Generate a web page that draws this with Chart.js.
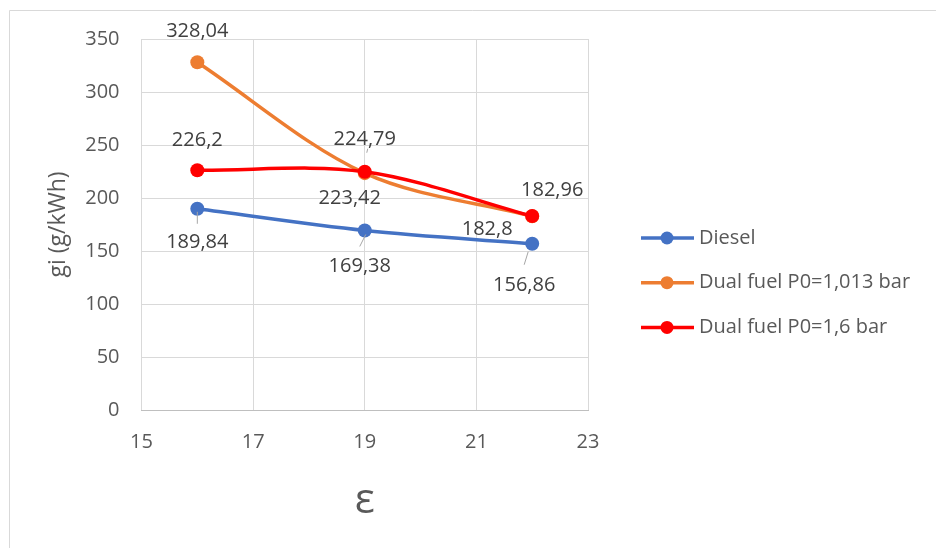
<!DOCTYPE html>
<html>
<head>
<meta charset="utf-8">
<script src="https://cdn.jsdelivr.net/npm/chart.js@4/dist/chart.umd.min.js"></script>
<style>
  html, body { margin: 0; padding: 0; background: #fff; }
  #wrap { width: 936px; height: 548px; }
</style>
</head>
<body>
<div id="wrap"><canvas id="giChart" width="936" height="548"></canvas></div>
<script>
// values
const epsValues = [16, 19, 22];
const seriesNames = ["Diesel", "Dual fuel P0=1,013 bar", "Dual fuel P0=1,6 bar"];
const dieselValues = [189.84, 169.38, 156.86];
const dualAtmValues = [328.04, 223.42, 182.8];
const dualBoostValues = [226.2, 224.79, 182.96];
const xTicks = [15, 17, 19, 21, 23];
const yTicks = [0, 50, 100, 150, 200, 250, 300, 350];

const seriesColors = ["#4472C4", "#ED7D31", "#FF0000"];

// where each value label sits relative to its point (px), and optional leader line
const labelPlacement = [
  [
    { dx: 0, dy: 34, leader: [0, 3, 0, 15] },
    { dx: -5, dy: 36, leader: [1, 4, -5, 16] },
    { dx: -8, dy: 42, leader: [-4, 8, -8, 21] },
  ],
  [
    { dx: 0, dy: -31 },
    { dx: -15, dy: 25 },
    { dx: -45, dy: 13 },
  ],
  [
    { dx: 0, dy: -30 },
    { dx: 0, dy: -32, leader: [3, -23, 2, -19] },
    { dx: 20, dy: -26 },
  ],
];

Chart.defaults.font.family = "'Open Sans', sans-serif";
Chart.defaults.font.size = 20;
Chart.defaults.color = "#595959";

function toPoints(values) {
  return epsValues.map((x, i) => ({ x: x, y: values[i] }));
}

function fmt(v) {
  return String(v).replace(".", ",");
}

const frame = {
  id: "frame",
  beforeDraw(chart) {
    const ctx = chart.ctx;
    ctx.save();
    ctx.fillStyle = "#ffffff";
    ctx.fillRect(0, 0, chart.width, chart.height);
    ctx.strokeStyle = "#d9d9d9";
    ctx.lineWidth = 1;
    ctx.beginPath();
    ctx.moveTo(9.5, chart.height);
    ctx.lineTo(9.5, 10.5);
    ctx.lineTo(chart.width, 10.5);
    ctx.stroke();
    ctx.restore();
  },
};

const valueLabels = {
  id: "valueLabels",
  afterDatasetsDraw(chart) {
    const ctx = chart.ctx;
    ctx.save();
    chart.data.datasets.forEach((ds, di) => {
      const meta = chart.getDatasetMeta(di);
      meta.data.forEach((pt, i) => {
        const place = labelPlacement[di][i];
        if (place.leader) {
          const l = place.leader;
          ctx.strokeStyle = "#a6a6a6";
          ctx.lineWidth = 1;
          ctx.beginPath();
          ctx.moveTo(pt.x + l[0], pt.y + l[1]);
          ctx.lineTo(pt.x + l[2], pt.y + l[3]);
          ctx.stroke();
        }
        ctx.fillStyle = "#404040";
        ctx.font = "20px 'Open Sans'";
        ctx.textAlign = "center";
        ctx.textBaseline = "middle";
        ctx.fillText(fmt(ds.data[i].y), pt.x + place.dx, pt.y + place.dy);
      });
    });
    ctx.restore();
  },
};

const sideLegend = {
  id: "sideLegend",
  afterDraw(chart) {
    const ctx = chart.ctx;
    ctx.save();
    chart.data.datasets.forEach((ds, i) => {
      const y = 238 + i * 44.7;
      ctx.strokeStyle = ds.borderColor;
      ctx.lineWidth = 3.5;
      ctx.beginPath();
      ctx.moveTo(641, y);
      ctx.lineTo(694, y);
      ctx.stroke();
      ctx.fillStyle = ds.borderColor;
      ctx.beginPath();
      ctx.arc(667, y, 6.5, 0, Math.PI * 2);
      ctx.fill();
      ctx.fillStyle = "#595959";
      ctx.font = "20px 'Open Sans'";
      ctx.textAlign = "left";
      ctx.textBaseline = "middle";
      ctx.fillText(ds.label, 699, y);
    });
    ctx.restore();
  },
};

const allValues = [dieselValues, dualAtmValues, dualBoostValues];
// red drawn on top, like the original
const drawOrder = [2, 1, 0];

new Chart(document.getElementById("giChart"), {
  type: "line",
  data: {
    datasets: allValues.map((vals, i) => ({
      label: seriesNames[i],
      data: toPoints(vals),
      borderColor: seriesColors[i],
      backgroundColor: seriesColors[i],
      borderWidth: 3.5,
      pointRadius: 7,
      pointBorderWidth: 0,
      pointHoverRadius: 7,
      tension: 0.33,
      order: drawOrder[i],
    })),
  },
  options: {
    responsive: false,
    animation: false,
    layout: { padding: { top: 39, right: 348, left: 0, bottom: 0 } },
    plugins: {
      legend: { display: false },
      tooltip: { enabled: false },
    },
    scales: {
      x: {
        type: "linear",
        min: 15,
        max: 23,
        afterBuildTicks: (scale) => {
          scale.ticks = xTicks.map((v) => ({ value: v }));
        },
        afterFit: (scale) => {
          scale.height = 548 - 410;
        },
        ticks: { padding: 20, color: "#595959" },
        grid: { color: "#d9d9d9", drawTicks: false },
        border: { color: "#bfbfbf" },
        title: {
          display: true,
          text: "ε",
          color: "#595959",
          font: { size: 42 },
          padding: { bottom: 22 },
        },
      },
      y: {
        min: 0,
        max: 350,
        afterBuildTicks: (scale) => {
          scale.ticks = yTicks.map((v) => ({ value: v }));
        },
        afterFit: (scale) => {
          scale.width = 141.5;
        },
        ticks: { padding: 22, color: "#595959" },
        grid: { color: "#d9d9d9", drawTicks: false },
        border: { display: false },
        title: {
          display: true,
          text: "gi (g/kWh)",
          color: "#595959",
          font: { size: 23 },
          padding: { top: 45 },
        },
      },
    },
  },
  plugins: [frame, valueLabels, sideLegend],
});
</script>
</body>
</html>
